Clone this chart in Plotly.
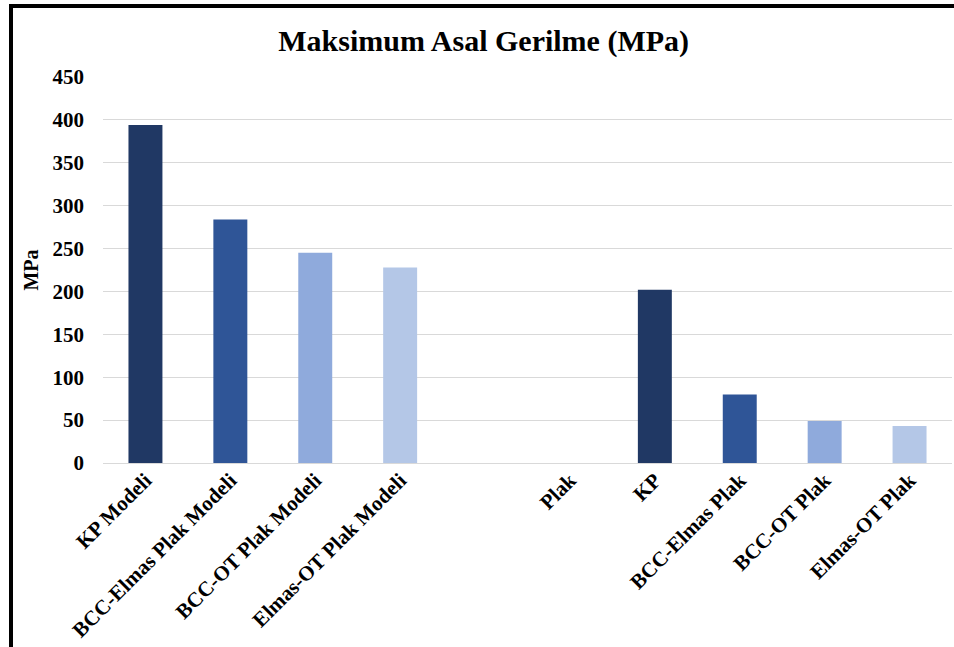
import plotly.graph_objects as go

categories = ["KP Modeli", "BCC-Elmas Plak Modeli", "BCC-OT Plak Modeli", "Elmas-OT Plak Modeli",
              " ", "Plak", "KP", "BCC-Elmas Plak", "BCC-OT Plak", "Elmas-OT Plak"]
values = [394, 284, 245, 228, None, 0, 202, 80, 49, 43]
colors = ["#203864", "#2F5597", "#8FAADC", "#B4C7E7", "#FFFFFF",
          "#FFFFFF", "#203864", "#2F5597", "#8FAADC", "#B4C7E7"]
y_ticks = [0, 50, 100, 150, 200, 250, 300, 350, 400, 450]

FONT = "Liberation Serif, Times New Roman, serif"

fig = go.Figure(go.Bar(
    x=categories, y=values, marker=dict(color=colors, line=dict(width=0)),
    width=0.4, showlegend=False,
))

fig.update_layout(
    width=954, height=647,
    margin=dict(l=103, r=2, t=77, b=184),
    paper_bgcolor="white", plot_bgcolor="white",
    title=dict(text="Maksimum Asal Gerilme (MPa)", x=0.507, xanchor="center",
               y=0.938, yanchor="middle", xref="container", yref="container",
               font=dict(family=FONT, size=30, color="black", weight="bold")),
    font=dict(family=FONT, color="black"),
    xaxis=dict(type="category", tickangle=-45, showgrid=False, showline=False,
               tickfont=dict(family=FONT, size=21, color="black", weight="bold"), ticks=""),
    yaxis=dict(range=[0, 450], tickvals=y_ticks, showgrid=True, gridcolor="#D9D9D9",
               gridwidth=1.3, zeroline=True, zerolinecolor="#D9D9D9", zerolinewidth=1.3,
               tickfont=dict(family=FONT, size=21, color="black", weight="bold"), ticks="",
               ticklabelstandoff=18,
               title=dict(text="MPa", font=dict(family=FONT, size=20, color="black", weight="bold"),
                          standoff=8)),
)

# outer frame (black border, partly cropped at right/bottom)
fig.add_shape(type="rect", xref="paper", yref="paper",
              x0=(11 - 103) / 849, x1=1.2, y0=-1.0, y1=(463 - 6) / 386,
              line=dict(color="black", width=4), fillcolor="rgba(0,0,0,0)", layer="above")

fig.write_html("out.html")
